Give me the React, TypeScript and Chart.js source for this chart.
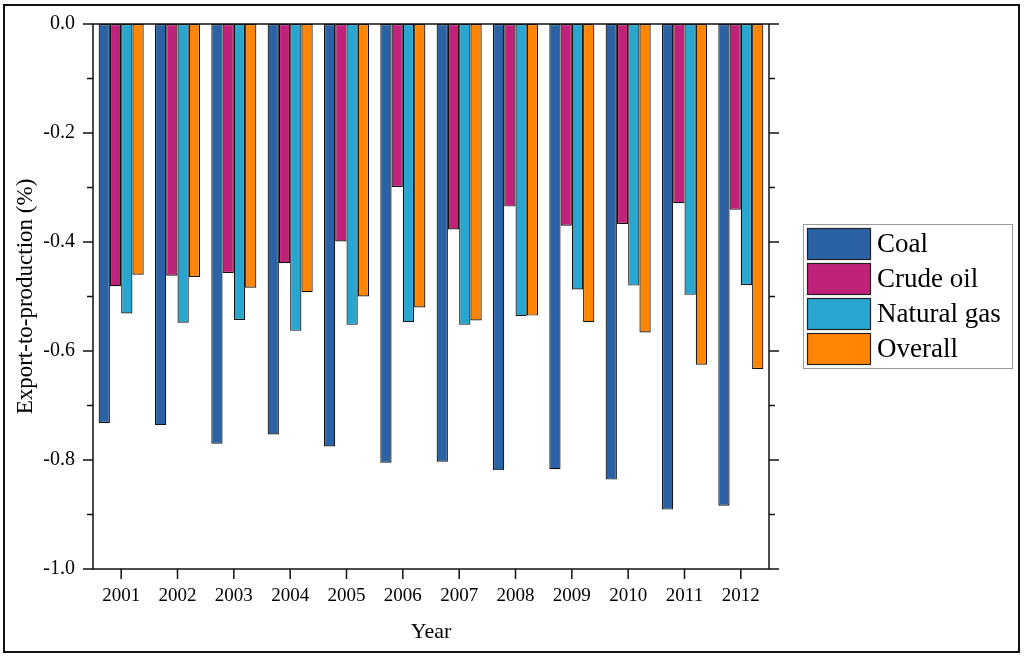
import React, { useEffect, useRef } from "react";
import { Chart, registerables } from "chart.js";

Chart.register(...registerables);

const years = ["2001", "2002", "2003", "2004", "2005", "2006", "2007", "2008", "2009", "2010", "2011", "2012"];
const coal = [-0.732, -0.736, -0.770, -0.753, -0.775, -0.805, -0.803, -0.819, -0.817, -0.836, -0.891, -0.884];
const crudeOil = [-0.481, -0.462, -0.457, -0.439, -0.399, -0.299, -0.377, -0.335, -0.370, -0.367, -0.329, -0.341];
const naturalGas = [-0.531, -0.548, -0.543, -0.563, -0.552, -0.547, -0.552, -0.536, -0.487, -0.480, -0.497, -0.479];
const overall = [-0.460, -0.464, -0.484, -0.492, -0.500, -0.520, -0.544, -0.535, -0.547, -0.566, -0.625, -0.633];
const seriesNames = ["Coal", "Crude oil", "Natural gas", "Overall"];
const seriesColors = ["#2B62A6", "#C0227A", "#29A6CF", "#FF8502"];
const yTickValues = [0, -0.1, -0.2, -0.3, -0.4, -0.5, -0.6, -0.7, -0.8, -0.9, -1.0];

const FONT = "'Liberation Serif', 'Times New Roman', serif";

const decorPlugin = {
  id: "decor",
  afterDraw(chart: any) {
    const { ctx, chartArea, scales } = chart;
    const xs = scales.x;
    const ys = scales.y;
    ctx.save();
    ctx.strokeStyle = "#111";
    ctx.lineWidth = 1.5;
    // plot frame
    ctx.strokeRect(chartArea.left, chartArea.top, chartArea.right - chartArea.left, chartArea.bottom - chartArea.top);
    // y ticks on both sides
    ctx.beginPath();
    yTickValues.forEach((v, i) => {
      const y = ys.getPixelForValue(v);
      const len = i % 2 === 0 ? 10 : 6;
      ctx.moveTo(chartArea.left - len, y);
      ctx.lineTo(chartArea.left, y);
      ctx.moveTo(chartArea.right, y);
      ctx.lineTo(chartArea.right + len, y);
    });
    // x ticks
    years.forEach((_, i) => {
      const x = xs.getPixelForValue(i);
      ctx.moveTo(x, chartArea.bottom);
      ctx.lineTo(x, chartArea.bottom + 10);
    });
    ctx.stroke();

    // legend
    const lx = 803, ly = 224, lw = 209, lh = 144;
    ctx.lineWidth = 1;
    ctx.strokeStyle = "#9a9a9a";
    ctx.strokeRect(lx + 0.5, ly + 0.5, lw, lh);
    const rowTops = [228, 263, 298, 333];
    ctx.font = `27px ${FONT}`;
    ctx.textBaseline = "middle";
    ctx.textAlign = "left";
    chart.data.datasets.forEach((ds: any, i: number) => {
      const top = rowTops[i];
      ctx.fillStyle = ds.backgroundColor;
      ctx.fillRect(807, top, 63, 31);
      ctx.strokeStyle = "#222";
      ctx.lineWidth = 1.2;
      ctx.strokeRect(807.5, top + 0.5, 63, 31);
      ctx.fillStyle = "#000";
      ctx.fillText(ds.label, 877, top + 16.5);
    });

    // outer frame
    ctx.strokeStyle = "#111";
    ctx.lineWidth = 2;
    ctx.strokeRect(4, 5, 1015, 647);
    ctx.restore();
  },
};

export default function App() {
  const ref = useRef<HTMLCanvasElement>(null);
  useEffect(() => {
    if (!ref.current) return;
    const series = [coal, crudeOil, naturalGas, overall];
    const chart = new Chart(ref.current, {
      type: "bar",
      data: {
        labels: years,
        datasets: series.map((d, i) => ({
          label: seriesNames[i],
          data: d,
          backgroundColor: seriesColors[i],
          borderColor: "#111",
          borderWidth: 1.2,
          borderSkipped: false,
          categoryPercentage: 0.8,
          barPercentage: 1.0,
        })),
      },
      options: {
        animation: false,
        responsive: false,
        maintainAspectRatio: false,
        layout: { padding: { top: 24, right: 255, left: 0, bottom: 0 } },
        plugins: { legend: { display: false }, tooltip: { enabled: false } },
        scales: {
          x: {
            afterFit: (s: any) => {
              s.height = 89;
              s.paddingLeft = 0;
              s.paddingRight = 0;
            },
            grid: { display: false, drawTicks: false },
            border: { display: false },
            ticks: { color: "#000", font: { family: FONT, size: 19 }, padding: 16, maxRotation: 0 },
            title: {
              display: true,
              text: "Year",
              color: "#000",
              font: { family: FONT, size: 22 },
              padding: { top: 0, bottom: 13 },
            },
          },
          y: {
            min: -1,
            max: 0,
            afterFit: (s: any) => {
              s.width = 93;
              s.paddingTop = 0;
              s.paddingBottom = 0;
            },
            grid: { display: false, drawTicks: false },
            border: { display: false },
            ticks: {
              stepSize: 0.2,
              color: "#000",
              font: { family: FONT, size: 20 },
              padding: 18,
              callback: (v: any) => Number(v).toFixed(1),
            },
            title: {
              display: true,
              text: "Export-to-production (%)",
              color: "#000",
              font: { family: FONT, size: 23 },
              padding: { top: 12, bottom: 0 },
            },
          },
        },
      },
      plugins: [decorPlugin],
    });
    return () => chart.destroy();
  }, []);
  return (
    <div style={{ position: "fixed", left: 0, top: 0, width: 1024, height: 658, background: "#fff" }}>
      <canvas ref={ref} width={1024} height={658} style={{ width: 1024, height: 658 }} />
    </div>
  );
}
